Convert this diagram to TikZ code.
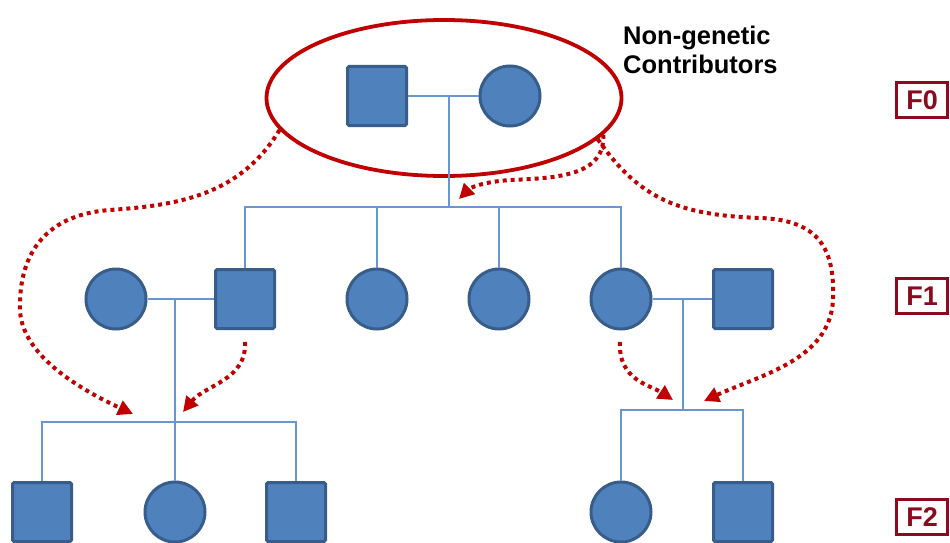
\documentclass[tikz,border=0pt]{standalone}
\usepackage{fontspec}
\setmainfont{Liberation Sans}
\usetikzlibrary{arrows.meta, shapes.geometric}
\definecolor{pedfill}{HTML}{4F81BD}
\definecolor{pededge}{HTML}{385D8A}
\definecolor{pedline}{HTML}{6A96CF}
\definecolor{envred}{HTML}{C00000}
\definecolor{genred}{HTML}{8C0A1E}

\begin{document}
\begin{tikzpicture}[x=1pt,y=-1pt,>={Triangle[length=15pt,width=15pt]},
      male/.style={rectangle,draw=pededge,fill=pedfill,line width=3pt,rounded corners=1.5pt,minimum size=59pt,inner sep=0pt},
      female/.style={circle,draw=pededge,fill=pedfill,line width=3pt,minimum size=60pt,inner sep=0pt},
      kin/.style={draw=pedline,line width=1.4pt},
      envarrow/.style={->,draw=envred,line width=4pt,dash pattern=on 4pt off 4pt},
      genbox/.style={draw=genred,line width=3pt,text=genred,font=\bfseries\fontsize{27}{27}\selectfont,minimum width=51pt,minimum height=35pt,inner sep=0pt}]
  \useasboundingbox (0,0) rectangle (950,543);
  % founders
  \node[ellipse,draw=envred,line width=3.8pt,minimum width=355pt,minimum height=156pt] (founders) at (444,98) {};
  \node[male]   (f0m) at (377,96) {};
  \node[female] (f0f) at (510,96) {};
  \node[anchor=north west,align=left,inner sep=0pt,font=\bfseries\fontsize{25.5}{29}\selectfont] (ngc) at (623,26) {Non-genetic\\Contributors};
  % generation F1
  \node[female] (c1) at (116,299) {};
  \node[male]   (s1) at (245,299) {};
  \node[female] (c2) at (377,299) {};
  \node[female] (c3) at (499,299) {};
  \node[female] (c4) at (621,299) {};
  \node[male]   (s2) at (743,299) {};
  % generation F2
  \node[male]   (g1) at (42,512) {};
  \node[female] (g2) at (175,512) {};
  \node[male]   (g3) at (296,512) {};
  \node[female] (g4) at (621,512) {};
  \node[male]   (g5) at (743,512) {};
  % generation labels
  \node[genbox] (gen0) at (922,100) {F0};
  \node[genbox] (gen1) at (922,296) {F1};
  \node[genbox] (gen2) at (922,517) {F2};

  % pedigree lines
  \coordinate (m0) at (449,96);
  \coordinate (b0) at (449,207);
  \draw[kin] (f0m) -- (f0f);
  \draw[kin] (m0) -- (b0);
  \draw[kin] (s1.north) |- (c4.north |- b0) -- (c4.north);
  \draw[kin] (c2.north) -- (c2.north |- b0);
  \draw[kin] (c3.north) -- (c3.north |- b0);

  \coordinate (m1) at (175,299);
  \coordinate (b1) at (175,422);
  \draw[kin] (c1) -- (s1);
  \draw[kin] (m1) -- (g2.north);
  \draw[kin] (g1.north) |- (g3.north |- b1) -- (g3.north);

  \coordinate (m2) at (683,299);
  \coordinate (b2) at (683,410);
  \draw[kin] (c4) -- (s2);
  \draw[kin] (m2) -- (b2);
  \draw[kin] (g4.north) |- (g5.north |- b2) -- (g5.north);

  % environmental influences
  \coordinate (t1) at (133,414);
  \coordinate (a2s) at (245,342);
  \coordinate (t2) at (183,412);
  \coordinate (t3) at (459,199);
  \coordinate (t4) at (704,401);
  \coordinate (a5s) at (620,342);
  \coordinate (t5) at (673,400);
  \draw[envarrow] (founders.191) .. controls (240,195) and (180,205) .. (110,210)
    .. controls (40,215) and (20,260) .. (20,305) .. controls (18,345) and (60,380) .. (t1);
  \draw[envarrow] (a2s) .. controls (247,380) and (205,385) .. (t2);
  \draw[envarrow] (founders.347) .. controls (605,175) and (560,178) .. (510,180)
    .. controls (482,182) and (470,188) .. (t3);
  \draw[envarrow] (founders.345) .. controls (640,200) and (680,215) .. (760,218)
    .. controls (820,220) and (835,250) .. (833,300) .. controls (830,360) and (760,375) .. (t4);
  \draw[envarrow] (a5s) .. controls (618,380) and (650,385) .. (t5);
\end{tikzpicture}
\end{document}
